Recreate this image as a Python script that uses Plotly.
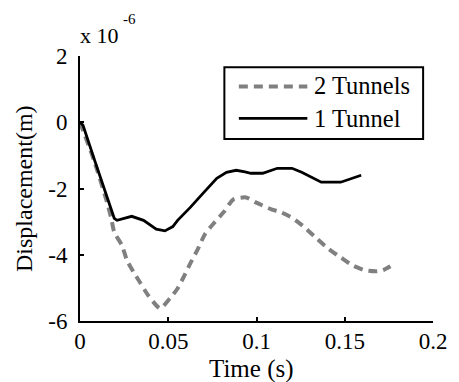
import plotly.graph_objects as go

# Time (s)
t_one = [0.0, 0.0017, 0.0083, 0.0194, 0.0210, 0.0293, 0.0360, 0.0432, 0.0481, 0.0526,
         0.0553, 0.0625, 0.0703, 0.0775, 0.0830, 0.0885, 0.0935, 0.0968, 0.1035, 0.1118,
         0.1201, 0.1256, 0.1367, 0.1477, 0.1593]
# Displacement (x 1e-6 m), 1 Tunnel
d_one = [0.0, -0.09, -1.15, -2.90, -2.96, -2.84, -2.96, -3.23, -3.28, -3.15,
         -2.96, -2.57, -2.11, -1.69, -1.51, -1.45, -1.50, -1.54, -1.54, -1.39,
         -1.39, -1.51, -1.81, -1.81, -1.60]

t_two = [0.0, 0.0083, 0.0155, 0.0177, 0.0194, 0.0238, 0.0266, 0.0304, 0.0343, 0.0387,
         0.0454, 0.0509, 0.0553, 0.0592, 0.0625, 0.0664, 0.0708, 0.0758, 0.0813, 0.0869,
         0.0941, 0.0996, 0.1084, 0.1140, 0.1206, 0.1272, 0.1339, 0.1405, 0.1477, 0.1544,
         0.1615, 0.1676, 0.1715, 0.1759]
# Displacement (x 1e-6 m), 2 Tunnels
d_two = [0.0, -1.21, -2.45, -2.90, -3.32, -3.72, -4.17, -4.53, -4.86, -5.23,
         -5.62, -5.32, -5.02, -4.62, -4.26, -3.87, -3.38, -3.05, -2.72, -2.33,
         -2.27, -2.42, -2.63, -2.72, -2.90, -3.17, -3.50, -3.81, -4.08, -4.32,
         -4.47, -4.50, -4.47, -4.35]

x_ticks = [0, 0.05, 0.1, 0.15, 0.2]
x_ticktext = ["0", "0.05", "0.1", "0.15", "0.2"]
y_ticks = [-6, -4, -2, 0, 2]
y_ticktext = ["-6", "-4", "-2", "0", "2"]
series_names = ["2 Tunnels", "1 Tunnel"]

FONT = "Liberation Serif"
GRAY = "#808080"

fig = go.Figure()
fig.add_trace(go.Scatter(x=t_two, y=d_two, mode="lines", name=series_names[0],
                         line=dict(color=GRAY, width=4, dash="9px,6px", shape="spline", smoothing=0.6)))
fig.add_trace(go.Scatter(x=t_one, y=d_one, mode="lines", name=series_names[1],
                         line=dict(color="black", width=2.8)))

fig.update_layout(
    width=459, height=382,
    margin=dict(l=80, r=17, t=56, b=61),
    paper_bgcolor="white", plot_bgcolor="white",
    showlegend=False,
    font=dict(family=FONT, size=23, color="black"),
)
fig.update_xaxes(range=[0, 0.2], tickvals=x_ticks, ticktext=x_ticktext,
                 showline=True, linecolor="black", linewidth=2, ticks="inside",
                 ticklen=4, tickwidth=2, tickcolor="black", showgrid=False, zeroline=False,
                 ticklabelstandoff=-2, tickfont=dict(family=FONT, size=23))
fig.update_yaxes(range=[-6, 2], tickvals=y_ticks, ticktext=y_ticktext,
                 showline=True, linecolor="black", linewidth=2, ticks="inside",
                 ticklen=4, tickwidth=2, tickcolor="black", showgrid=False, zeroline=False,
                 ticklabelstandoff=6, tickfont=dict(family=FONT, size=23))

# Axis titles
fig.add_annotation(text="Time (s)", xref="paper", yref="paper", x=0.485, y=-0.181,
                   xanchor="center", yanchor="middle", showarrow=False,
                   font=dict(family=FONT, size=25))
fig.add_annotation(text="Displacement(m)", xref="paper", yref="paper", x=-0.160, y=0.5,
                   xanchor="center", yanchor="middle", textangle=-90, showarrow=False,
                   font=dict(family=FONT, size=24))
# Exponent label
fig.add_annotation(text="x 10", xref="paper", yref="paper", x=-0.006, y=1.079,
                   xanchor="left", yanchor="middle", showarrow=False,
                   font=dict(family=FONT, size=22))
fig.add_annotation(text="-6", xref="paper", yref="paper", x=0.116, y=1.140,
                   xanchor="left", yanchor="middle", showarrow=False,
                   font=dict(family=FONT, size=15))

# Legend (drawn manually)
fig.add_shape(type="rect", xref="paper", yref="paper", x0=0.409, x1=0.972, y0=0.687, y1=0.958,
              line=dict(color="black", width=2), fillcolor="white", layer="above")
fig.add_shape(type="line", xref="paper", yref="paper", x0=0.450, x1=0.644, y0=0.885, y1=0.885,
              line=dict(color=GRAY, width=4, dash="9px,6px"), layer="above")
fig.add_shape(type="line", xref="paper", yref="paper", x0=0.450, x1=0.644, y0=0.765, y1=0.765,
              line=dict(color="black", width=2.8), layer="above")
fig.add_annotation(text=series_names[0], xref="paper", yref="paper", x=0.658, y=0.887,
                   xanchor="left", yanchor="middle", showarrow=False,
                   font=dict(family=FONT, size=24.5))
fig.add_annotation(text=series_names[1], xref="paper", yref="paper", x=0.658, y=0.766,
                   xanchor="left", yanchor="middle", showarrow=False,
                   font=dict(family=FONT, size=24.5))

fig.write_html("out.html")
